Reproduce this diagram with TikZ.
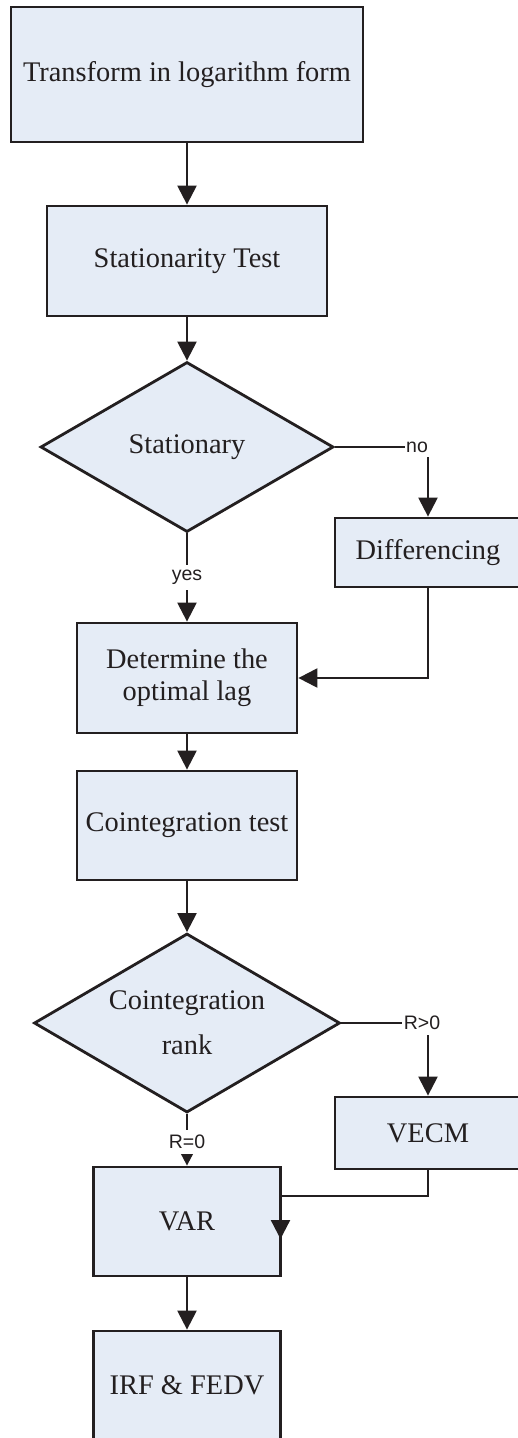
\documentclass[tikz,border=0pt]{standalone}
\usepackage{fontspec}
\setmainfont{Liberation Serif}
\newfontfamily\labelfamily{Liberation Sans}
\usetikzlibrary{arrows.meta,shapes.geometric,calc}
\definecolor{boxfill}{HTML}{E5ECF6}
\definecolor{ink}{HTML}{231F20}
\newcommand\boxtextsize{\fontsize{28.4}{32}\selectfont}
\newcommand\lblsize{\labelfamily\fontsize{19.5}{22}\selectfont}
\begin{document}
\begin{tikzpicture}[x=1pt,y=-1pt,
  proc/.style={draw=ink, fill=boxfill, line width=2.8pt, rectangle, align=center,
    inner sep=0pt, font=\boxtextsize, text=ink},
  decide/.style={draw=ink, fill=boxfill, line width=2.8pt, diamond, inner sep=0pt},
  caption/.style={align=center, inner sep=0pt, font=\boxtextsize, text=ink},
  flow/.style={draw=ink, line width=2.3pt, -{Triangle[width=19pt,length=19pt]}},
  smallflow/.style={draw=ink, line width=2.3pt, -{Triangle[width=14pt,length=14pt]}},
  lab/.style={fill=white, font=\lblsize, inner xsep=1.5pt, inner ysep=5pt, text=ink}
]
\useasboundingbox (0,0) rectangle (518,1438);

% process boxes and decisions
\node[proc, minimum width=352pt, minimum height=135pt] (log) at (187,74.5) {Transform in logarithm form};
\node[proc, minimum width=280pt, minimum height=110pt] (adf) at (187,261) {Stationarity Test};
\node[decide, minimum width=293pt, minimum height=170pt] (stat) at (187,447) {};
\node[caption] (statText) at (stat.center) {Stationary};
\node[proc, minimum width=186pt, minimum height=69pt] (diff) at (428,552.5) {Differencing};
\node[proc, minimum width=220pt, minimum height=110pt] (lag) at (187,678) {Determine the\\optimal lag};
\node[proc, minimum width=220pt, minimum height=109pt] (coint) at (187,825.5) {Cointegration test};
\node[decide, minimum width=306pt, minimum height=179pt] (rank) at (187,1023) {};
\node[caption] (rankText) at (rank.center) {Cointegration\\[13pt]rank};
\node[proc, minimum width=186pt, minimum height=72pt] (vecm) at (428,1133) {VECM};
\node[proc, minimum width=187pt, minimum height=109pt] (var) at (187,1221.5) {VAR};
\node[proc, minimum width=187pt, minimum height=109pt] (irf) at (187,1385.5) {IRF \& FEDV};

% connectors
\draw[flow] (log.south) -- (adf.north);
\draw[flow] (adf.south) -- (stat.north);
\draw[flow] (stat.east) -| node[lab, xshift=-11pt] {no} (diff.north);
\draw[flow] (stat.south) -- node[lab] {yes} (lag.north);
\draw[flow] (diff.south) |- (lag.east);
\draw[flow] (lag.south) -- (coint.north);
\draw[flow] (coint.south) -- (rank.north);
\draw[flow] (rank.east) -| node[lab, xshift=-6pt] {R>0} (vecm.north);
\draw[smallflow] (rank.south) -- node[lab, yshift=-2pt] {R=0} (var.north);
\draw[flow] (vecm.south) |- ($(var.east)+(-1.4,-25.5)$) -- ($(var.east)+(-1.4,17.5)$);
\draw[flow] (var.south) -- (irf.north);
\end{tikzpicture}
\end{document}
